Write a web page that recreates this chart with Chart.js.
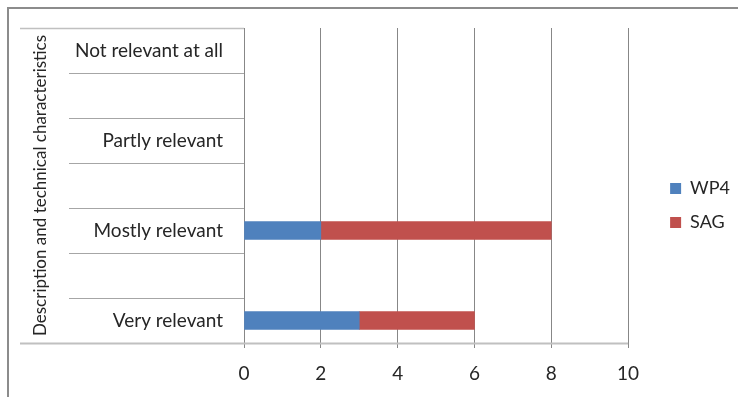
<!DOCTYPE html>
<html>
<head>
<meta charset="utf-8">
<script src="https://cdn.jsdelivr.net/npm/chart.js@4.4.1/dist/chart.umd.min.js"></script>
<style>
  html, body { margin: 0; padding: 0; background: #ffffff; }
  #wrap { position: relative; width: 738px; height: 397px; }
</style>
</head>
<body>
<div id="wrap"><canvas id="chart" width="738" height="397"></canvas></div>
<script>
// Ratings, top row first (blank rows sit between the named ones)
const categories = ['Not relevant at all', '', 'Partly relevant', '', 'Mostly relevant', '', 'Very relevant'];
const groupTitle = 'Description and technical characteristics';
const seriesNames = ['WP4', 'SAG'];
const wp4Values = [null, null, null, null, 2, null, 3];
const sagValues = [null, null, null, null, 6, null, 3];
const xMin = 0;
const xMax = 10;
const xStep = 2;

const FONT = 'Lato, "Open Sans", sans-serif';
const TEXT = '#262626';
const GRID = '#878787';
const AXIS_LIGHT = '#C0C0C0';

// frame, category separators, group title and the bottom axis line
const decorations = {
  id: 'decorations',
  afterLayout(chart) {
    // push the legend entries away from the plot edge
    const lg = chart.legend;
    lg.left += 26;
    lg.right += 26;
  },
  beforeDraw(chart) {
    const ctx = chart.ctx;
    ctx.save();
    ctx.strokeStyle = '#8C8C8C';
    ctx.lineWidth = 2;
    ctx.strokeRect(8, 8, 760, 420);
    ctx.restore();
  },
  afterDraw(chart) {
    const ctx = chart.ctx;
    const y = chart.scales.y;
    const area = chart.chartArea;
    const n = categories.length;
    ctx.save();
    for (let i = 0; i <= n; i++) {
      const py = Math.round(y.getPixelForValue(i - 0.5)) + 0.5;
      ctx.beginPath();
      if (i === 0) {
        ctx.strokeStyle = AXIS_LIGHT;
        ctx.lineWidth = 1.5;
        ctx.moveTo(20, py);
        ctx.lineTo(area.left, py);
      } else if (i === n) {
        ctx.strokeStyle = AXIS_LIGHT;
        ctx.lineWidth = 2;
        ctx.moveTo(20, py);
        ctx.lineTo(area.right, py);
      } else {
        ctx.strokeStyle = '#A6A6A6';
        ctx.lineWidth = 1;
        ctx.moveTo(69, py);
        ctx.lineTo(area.left, py);
      }
      ctx.stroke();
    }
    // rotated group label
    ctx.translate(41, (area.top + area.bottom) / 2);
    ctx.rotate(-Math.PI / 2);
    ctx.fillStyle = TEXT;
    ctx.font = '17px ' + FONT;
    ctx.textAlign = 'center';
    ctx.textBaseline = 'middle';
    ctx.fillText(groupTitle, 0, 0);
    ctx.restore();
  }
};

new Chart(document.getElementById('chart'), {
  type: 'bar',
  data: {
    labels: categories,
    datasets: [
      { label: seriesNames[0], data: wp4Values, backgroundColor: '#4F81BD', borderWidth: 0, barThickness: 18 },
      { label: seriesNames[1], data: sagValues, backgroundColor: '#C0504D', borderWidth: 0, barThickness: 18 }
    ]
  },
  options: {
    indexAxis: 'y',
    responsive: false,
    animation: false,
    layout: { padding: { left: 0, top: 28, right: 24, bottom: 14 } },
    plugins: {
      legend: {
        position: 'right',
        labels: {
          boxWidth: 11,
          boxHeight: 11,
          padding: 16,
          color: TEXT,
          font: { family: FONT, size: 18 }
        }
      },
      tooltip: { enabled: false }
    },
    scales: {
      x: {
        stacked: true,
        min: xMin,
        max: xMax,
        ticks: { stepSize: xStep, color: TEXT, padding: 14, font: { family: FONT, size: 19 } },
        grid: { color: GRID, lineWidth: 1, tickLength: 5, drawTicks: true },
        border: { display: false },
        afterFit: (s) => { s.height = 40; }
      },
      y: {
        stacked: true,
        ticks: { color: TEXT, padding: 13, font: { family: FONT, size: 19 } },
        grid: { display: false },
        border: { display: true, color: GRID, width: 1 },
        afterFit: (s) => { s.width = 244; }
      }
    }
  },
  plugins: [decorations]
});
</script>
</body>
</html>
